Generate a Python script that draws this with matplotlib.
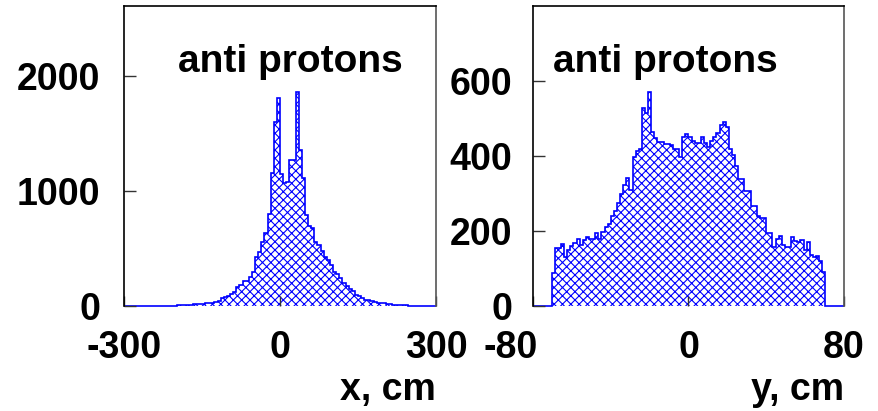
import numpy as np
import matplotlib
matplotlib.use("Agg")
import matplotlib.pyplot as plt
from matplotlib.transforms import ScaledTranslation

plt.rcParams['font.family'] = ['Liberation Sans', 'DejaVu Sans']
plt.rcParams['font.weight'] = 'bold'
plt.rcParams['hatch.linewidth'] = 0.8

# x distribution, 100 bins from -300 to 300 cm
x_edges = np.linspace(-300, 300, 101)
x_counts = [0, 0, 0, 0, 0, 0, 0, 0, 0, 0, 0,
            1, 1, 2, 2, 3, 4, 5, 6, 8, 10, 12, 14, 15, 18, 20, 22, 26, 30, 38, 45,
            70, 75, 85, 105, 120, 165, 180, 215, 220, 250, 300, 430, 470, 559, 635,
            800, 1154, 1603, 1806, 1150, 1070, 1080, 1270, 1270, 1858, 1357, 1110,
            791, 700, 680, 560, 530, 480, 430, 400, 360, 300, 280, 240, 200, 175,
            150, 130, 100, 90, 70, 55, 50, 40, 35, 30, 28, 25, 20, 15, 12, 10, 8,
            6, 5, 3, 2, 2, 1, 1,
            0, 0, 0, 0]

# y distribution, 100 bins from -80 to 80 cm
y_edges = np.linspace(-80, 80, 101)
y_counts = [0, 0, 0, 0, 0, 0,
            89, 154, 154, 165, 131, 149, 160, 167, 178, 163, 175, 183, 180, 180,
            195, 180, 198, 210, 220, 240, 254, 274, 300, 323, 342, 309, 398, 414,
            418, 527, 514, 570, 465, 447, 438, 438, 431, 433, 429, 418, 418, 397,
            450, 459, 452, 440, 434, 434, 450, 436, 425, 441, 452, 462, 483, 490,
            478, 420, 403, 373, 338, 338, 307, 307, 267, 266, 240, 236, 236, 194,
            194, 158, 180, 187, 163, 158, 158, 183, 174, 172, 175, 150, 172, 135,
            130, 133, 121, 90,
            0, 0, 0, 0, 0, 0]

x_ticks = [-300, 0, 300]
x_ticklabels = ["-300", "0", "300"]
x_yticks = [0, 1000, 2000]
y_ticks = [-80, 0, 80]
y_ticklabels = ["-80", "0", "80"]
y_yticks = [0, 200, 400, 600]

W, H = 879, 411
fig = plt.figure(figsize=(W / 100, H / 100), dpi=100)
ax1 = fig.add_axes([124 / W, 1 - 306 / H, 312 / W, 300 / H])
ax2 = fig.add_axes([533 / W, 1 - 306 / H, 311 / W, 300 / H])

fs = 27
panels = [
    (ax1, x_edges, x_counts, x_ticks, x_ticklabels, x_yticks, 2609, "x, cm", 0.532, 17),
    (ax2, y_edges, y_counts, y_ticks, y_ticklabels, y_yticks, 800, "y, cm", 0.427, 15),
]
for ax, edges, counts, xt, xtl, yt, ymax, xlab, tx, ypad in panels:
    ax.stairs(counts, edges, fill=True, facecolor='white', edgecolor='blue',
              hatch='xxxx', linewidth=1.2, clip_on=False, zorder=1.5)
    ax.set_xlim(edges[0], edges[-1])
    ax.set_ylim(0, ymax)
    ax.set_xticks(xt)
    ax.set_xticklabels(xtl)
    ax.set_yticks(yt)
    ax.set_yticklabels([str(v) for v in yt])
    ax.tick_params(axis='both', direction='in', labelsize=fs, color='#333333')
    ax.tick_params(axis='y', length=8.5, width=1.0, pad=ypad)
    ax.tick_params(axis='x', length=7, width=1.0, pad=17)
    for s in ax.spines.values():
        s.set_linewidth(1.2)
        s.set_color('black')
    ax.spines['right'].set_color('#555555')
    ax.spines['bottom'].set_visible(False)
    ax.text(tx, 0.781, "anti protons", transform=ax.transAxes, ha='center',
            va='baseline', fontsize=28, fontweight='bold')
    ax.set_xlabel(xlab, fontsize=fs, fontweight='bold')
    ax.xaxis.set_label_coords(1.0, -0.22)
    ax.xaxis.label.set_ha('right')
    ax.xaxis.label.set_va('top')

# the "-80" label sits a bit to the left of its tick
lab = ax2.xaxis.get_major_ticks()[0].label1
lab.set_transform(lab.get_transform() + ScaledTranslation(-0.22, 0, fig.dpi_scale_trans))

fig.savefig("out.png", dpi=100)
